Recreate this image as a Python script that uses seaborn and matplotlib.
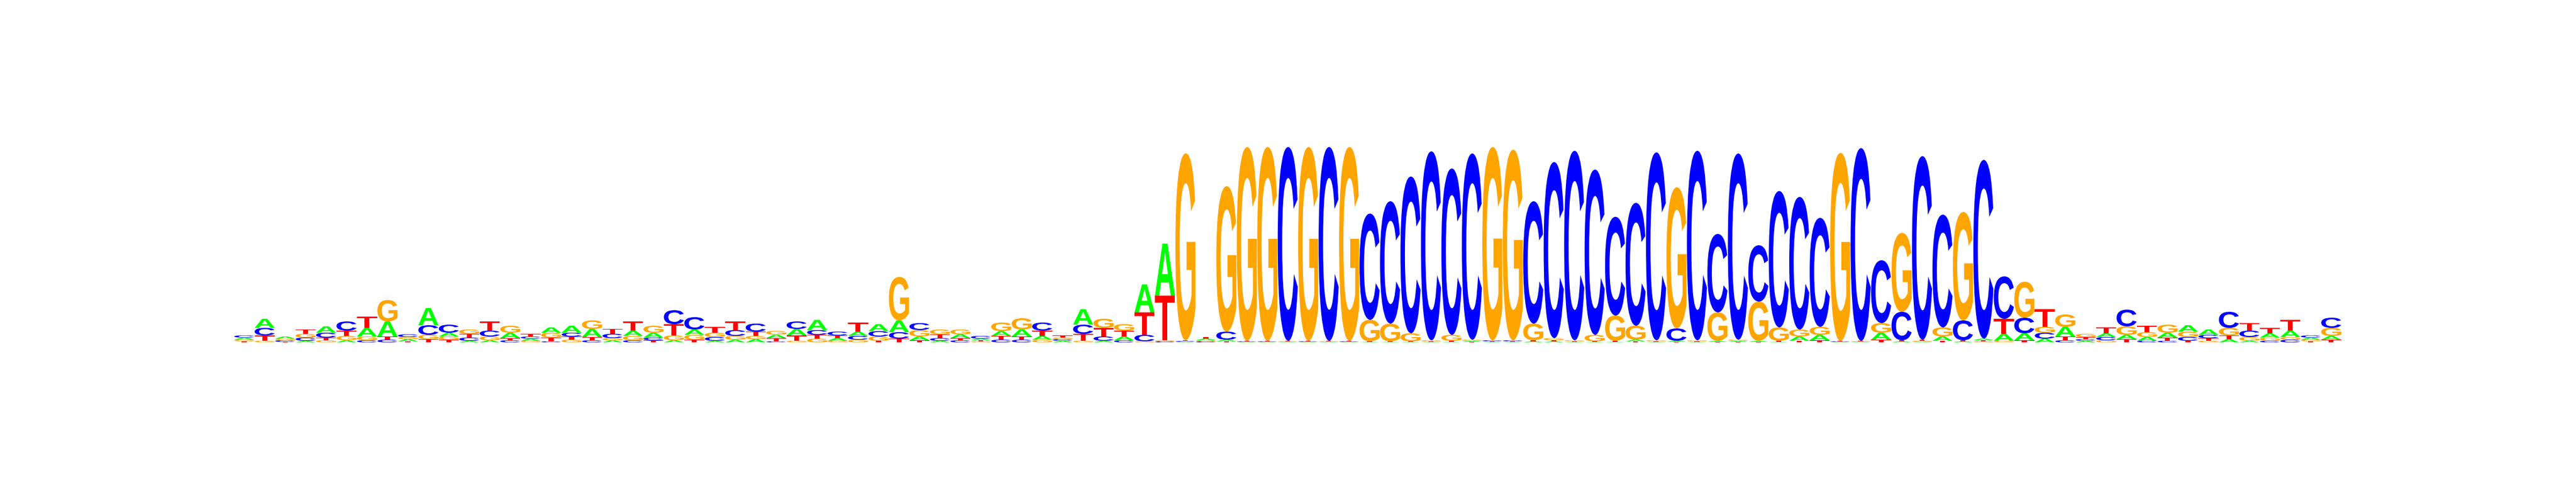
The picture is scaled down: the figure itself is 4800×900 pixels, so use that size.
import numpy as np
import pandas as pd
import matplotlib
matplotlib.use("Agg")
import matplotlib.pyplot as plt
import seaborn as sns
from matplotlib.textpath import TextPath
from matplotlib.patches import PathPatch
from matplotlib.font_manager import FontProperties
from matplotlib.transforms import Affine2D

# Information content (bits) per base, one entry per position (103 positions)
a_bits = [0.02, 0.085, 0.02, 0.015, 0.06, 0.02, 0.08, 0.14, 0.02, 0.16,
          0.035, 0.015, 0.02, 0.05, 0.02, 0.05, 0.065, 0.075, 0.02, 0.05,
          0.045, 0.02, 0.05, 0.015, 0.025, 0.03, 0.032, 0.06, 0.095, 0.025,
          0.04, 0.065, 0.11, 0.035, 0.015, 0.035, 0.015, 0.045, 0.065, 0.035,
          0.015, 0.145, 0.015, 0.035, 0.26, 0.485, 0.005, 0.015, 0.015, 0.005,
          0.005, 0.005, 0.005, 0.005, 0.005, 0.005, 0.005, 0.005, 0.005, 0.005,
          0.01, 0.005, 0.005, 0.01, 0.01, 0.005, 0.005, 0.005, 0.015, 0.005,
          0.01, 0.005, 0.01, 0.01, 0.01, 0.005, 0.04, 0.05, 0.005, 0.005,
          0.065, 0.01, 0.005, 0.04, 0.01, 0.015, 0.065, 0.065, 0.035, 0.09,
          0.015, 0.035, 0.04, 0.035, 0.045, 0.06, 0.05, 0.03, 0.015, 0.04,
          0.06, 0.02, 0.035]
c_bits = [0.02, 0.07, 0.015, 0.03, 0.045, 0.085, 0.02, 0.025, 0.025, 0.09,
          0.075, 0.03, 0.055, 0.02, 0.02, 0.01, 0.035, 0.02, 0.04, 0.02,
          0.025, 0.13, 0.115, 0.035, 0.055, 0.075, 0.01, 0.07, 0.045, 0.035,
          0.035, 0.05, 0.06, 0.065, 0.025, 0.02, 0.025, 0.025, 0.025, 0.075,
          0.015, 0.085, 0.04, 0.02, 0.06, 0.01, 0.008, 0.01, 0.075, 0.005,
          0.005, 1.805, 0.005, 1.805, 0.005, 0.99, 1.14, 1.46, 1.76, 1.55,
          1.735, 0.01, 0.01, 1.14, 1.64, 1.765, 1.54, 0.92, 1.145, 1.75,
          0.115, 1.765, 0.73, 1.735, 0.525, 1.27, 1.235, 1.015, 0.005, 1.795,
          0.585, 0.265, 1.71, 1.05, 0.185, 1.665, 0.395, 0.145, 0.055, 0.02,
          0.015, 0.03, 0.155, 0.015, 0.015, 0.035, 0.03, 0.15, 0.06, 0.015,
          0.025, 0.02, 0.095]
g_bits = [0.015, 0.015, 0.015, 0.035, 0.02, 0.04, 0.035, 0.2, 0.02, 0.04,
          0.03, 0.04, 0.035, 0.065, 0.015, 0.045, 0.025, 0.08, 0.02, 0.04,
          0.065, 0.045, 0.045, 0.04, 0.035, 0.03, 0.035, 0.015, 0.035, 0.015,
          0.025, 0.04, 0.405, 0.06, 0.045, 0.045, 0.01, 0.08, 0.105, 0.025,
          0.015, 0.015, 0.085, 0.06, 0.01, 0.01, 1.74, 0.01, 1.355, 1.805,
          1.805, 0.005, 1.805, 0.005, 1.805, 0.2, 0.165, 0.075, 0.01, 0.055,
          0.01, 1.8, 1.775, 0.155, 0.02, 0.01, 0.06, 0.235, 0.13, 0.01,
          1.315, 0.01, 0.265, 0.01, 0.365, 0.125, 0.065, 0.075, 1.75, 0.005,
          0.09, 0.735, 0.01, 0.085, 1.01, 0.01, 0.015, 0.335, 0.055, 0.115,
          0.03, 0.02, 0.08, 0.045, 0.075, 0.05, 0.015, 0.07, 0.035, 0.03,
          0.025, 0.015, 0.075]
t_bits = [0.01, 0.05, 0.005, 0.04, 0.025, 0.05, 0.105, 0.03, 0.01, 0.03,
          0.025, 0.035, 0.085, 0.02, 0.025, 0.035, 0.03, 0.03, 0.045, 0.085,
          0.02, 0.105, 0.025, 0.055, 0.08, 0.04, 0.03, 0.05, 0.035, 0.025,
          0.085, 0.015, 0.035, 0.02, 0.035, 0.02, 0.01, 0.035, 0.03, 0.05,
          0.02, 0.065, 0.08, 0.055, 0.21, 0.415, 0.008, 0.015, 0.01, 0.005,
          0.005, 0.005, 0.005, 0.005, 0.005, 0.005, 0.005, 0.005, 0.005, 0.01,
          0.005, 0.005, 0.005, 0.01, 0.01, 0.005, 0.005, 0.01, 0.01, 0.005,
          0.005, 0.005, 0.005, 0.005, 0.005, 0.01, 0.015, 0.02, 0.005, 0.005,
          0.025, 0.01, 0.01, 0.015, 0.01, 0.01, 0.14, 0.02, 0.165, 0.035,
          0.02, 0.055, 0.03, 0.06, 0.03, 0.015, 0.025, 0.035, 0.07, 0.05,
          0.1, 0.01, 0.025]

bases = ["A", "C", "G", "T"]
base_colors = {"A": "#00FF00", "C": "#0000FF", "G": "#FFA500", "T": "#FF0000"}

df = pd.DataFrame({"A": a_bits, "C": c_bits, "G": g_bits, "T": t_bits})

sns.set_theme(style="white")
plt.rcParams["font.family"] = ["Liberation Sans", "DejaVu Sans"]

fig = plt.figure(figsize=(16, 3), dpi=300)
ax = fig.add_axes([436 / 4800, 262 / 900, 3927 / 4800, 400 / 900])

fp = FontProperties(family="Liberation Sans", weight="bold")
glyphs = {b: TextPath((0, 0), b, size=1, prop=fp) for b in bases}

col_w = 0.98
for i, row in df.iterrows():
    y = 0.0
    for b, h in sorted(row.items(), key=lambda kv: kv[1]):
        if h <= 0:
            continue
        p = glyphs[b]
        ext = p.get_extents()
        tr = (Affine2D()
              .translate(-ext.x0, -ext.y0)
              .scale(col_w / ext.width, h / ext.height)
              .translate(i + (1 - col_w) / 2, y))
        ax.add_patch(PathPatch(tr.transform_path(p), facecolor=base_colors[b],
                               edgecolor="none", lw=0))
        y += h

ax.set_xlim(0, len(df))
ax.set_ylim(0, 2)
ax.axis("off")
sns.despine(ax=ax, left=True, bottom=True)

fig.savefig("out.png", dpi=300, facecolor="white")
